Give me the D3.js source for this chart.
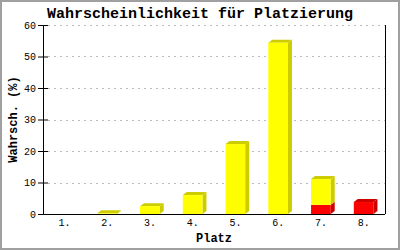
<!DOCTYPE html>
<html>
  <head>
    <meta charset="utf-8">
    <style>
      body { margin: 0; background: #fff; }
      svg { display: block; }
      .title { font: bold 15px "Liberation Mono", monospace; }
      .axis-title { font: bold 12px "Liberation Mono", monospace; }
      .tick text { font: 10px "Liberation Mono", monospace; fill: #000; }
      .grid line { stroke: #bbb; stroke-dasharray: 2,4; }
    </style>
  </head>
  <body>
    <svg width="400" height="250"></svg>
    <script src="https://d3js.org/d3.v7.min.js"></script>
    <script>
      var places = ["1.", "2.", "3.", "4.", "5.", "6.", "7.", "8."];
      var yellowValues = [0, 0.2, 2.5, 6.0, 22.2, 54.4, 8.2, 0];
      var redValues = [0, 0, 0, 0, 0, 0, 2.9, 3.8];
      var yTicks = [0, 10, 20, 30, 40, 50, 60];

      var svg = d3.select("svg"),
          width = +svg.attr("width"),
          height = +svg.attr("height");

      var plotLeft = 43, plotRight = 385, plotTop = 25, plotBottom = 214;
      var depthX = 4, depthY = 3;

      // frame
      svg.append("rect")
        .attr("x", 1).attr("y", 1)
        .attr("width", width - 2).attr("height", height - 2)
        .attr("fill", "#fff")
        .attr("stroke", "#a0a0a0")
        .attr("stroke-width", 2);

      var x = d3.scaleBand()
        .domain(places)
        .range([plotLeft, plotRight]);

      var y = d3.scaleLinear()
        .domain([0, 60])
        .range([plotBottom, plotTop]);

      svg.append("text")
        .attr("class", "title")
        .attr("x", width / 2)
        .attr("y", 18)
        .attr("text-anchor", "middle")
        .text("Wahrscheinlichkeit für Platzierung");

      // grid
      svg.append("g")
          .attr("class", "grid")
        .selectAll("line")
        .data(yTicks.filter(function(d) { return d > 0; }))
        .enter().append("line")
          .attr("x1", plotLeft + 5)
          .attr("x2", plotRight)
          .attr("y1", function(d) { return Math.round(y(d)) + 0.5; })
          .attr("y2", function(d) { return Math.round(y(d)) + 0.5; });

      // stacked data
      var rows = places.map(function(p, i) {
        return { place: p, red: redValues[i], yellow: yellowValues[i] };
      });
      var series = d3.stack().keys(["red", "yellow"])(rows);
      var colors = {
        red: { front: "#ff0000", side: "#cc0000" },
        yellow: { front: "#ffff00", side: "#cccc00" }
      };

      var barW = x.bandwidth() * 0.46;
      var bars = svg.append("g");

      series.forEach(function(s) {
        s.forEach(function(d, i) {
          if (d[1] - d[0] <= 0) return;
          var c = colors[s.key];
          var x0 = x(places[i]) + x.bandwidth() / 2 - barW / 2;
          var y0 = y(d[0]), y1 = y(d[1]);
          var isTop = d[1] >= d.data.red + d.data.yellow;
          // side
          bars.append("path")
            .attr("d", "M" + (x0 + barW) + "," + y0 +
              "L" + (x0 + barW + depthX) + "," + (y0 - depthY) +
              "L" + (x0 + barW + depthX) + "," + (y1 - depthY) +
              "L" + (x0 + barW) + "," + y1 + "Z")
            .attr("fill", c.side);
          if (isTop) {
            bars.append("path")
              .attr("d", "M" + x0 + "," + y1 +
                "L" + (x0 + depthX) + "," + (y1 - depthY) +
                "L" + (x0 + barW + depthX) + "," + (y1 - depthY) +
                "L" + (x0 + barW) + "," + y1 + "Z")
              .attr("fill", c.side);
          }
          bars.append("rect")
            .attr("x", x0)
            .attr("y", y1)
            .attr("width", barW)
            .attr("height", y0 - y1)
            .attr("fill", c.front);
        });
      });

      // axes
      var yAxis = svg.append("g")
        .attr("transform", "translate(" + plotLeft + ",0)")
        .call(d3.axisLeft(y).tickValues(yTicks).tickSize(5).tickPadding(2));
      yAxis.select(".domain").remove();
      yAxis.selectAll(".tick line").attr("x1", 5);

      var xAxis = svg.append("g")
        .attr("transform", "translate(0," + plotBottom + ")")
        .call(d3.axisBottom(x).tickSize(0).tickPadding(5));
      xAxis.select(".domain").remove();

      svg.append("line")
        .attr("x1", plotLeft - 5).attr("x2", plotRight)
        .attr("y1", plotBottom + 0.5).attr("y2", plotBottom + 0.5)
        .attr("stroke", "#000");
      svg.append("line")
        .attr("x1", plotLeft + 0.5).attr("x2", plotLeft + 0.5)
        .attr("y1", plotTop).attr("y2", plotBottom)
        .attr("stroke", "#000");
      svg.append("line")
        .attr("x1", plotRight + 0.5).attr("x2", plotRight + 0.5)
        .attr("y1", plotTop).attr("y2", plotBottom)
        .attr("stroke", "#000");

      svg.append("text")
        .attr("class", "axis-title")
        .attr("x", (plotLeft + plotRight) / 2)
        .attr("y", 242)
        .attr("text-anchor", "middle")
        .text("Platz");

      svg.append("text")
        .attr("class", "axis-title")
        .attr("transform", "translate(17," + (plotTop + plotBottom) / 2 + ") rotate(-90)")
        .attr("text-anchor", "middle")
        .text("Wahrsch. (%)");
    </script>
  </body>
</html>
